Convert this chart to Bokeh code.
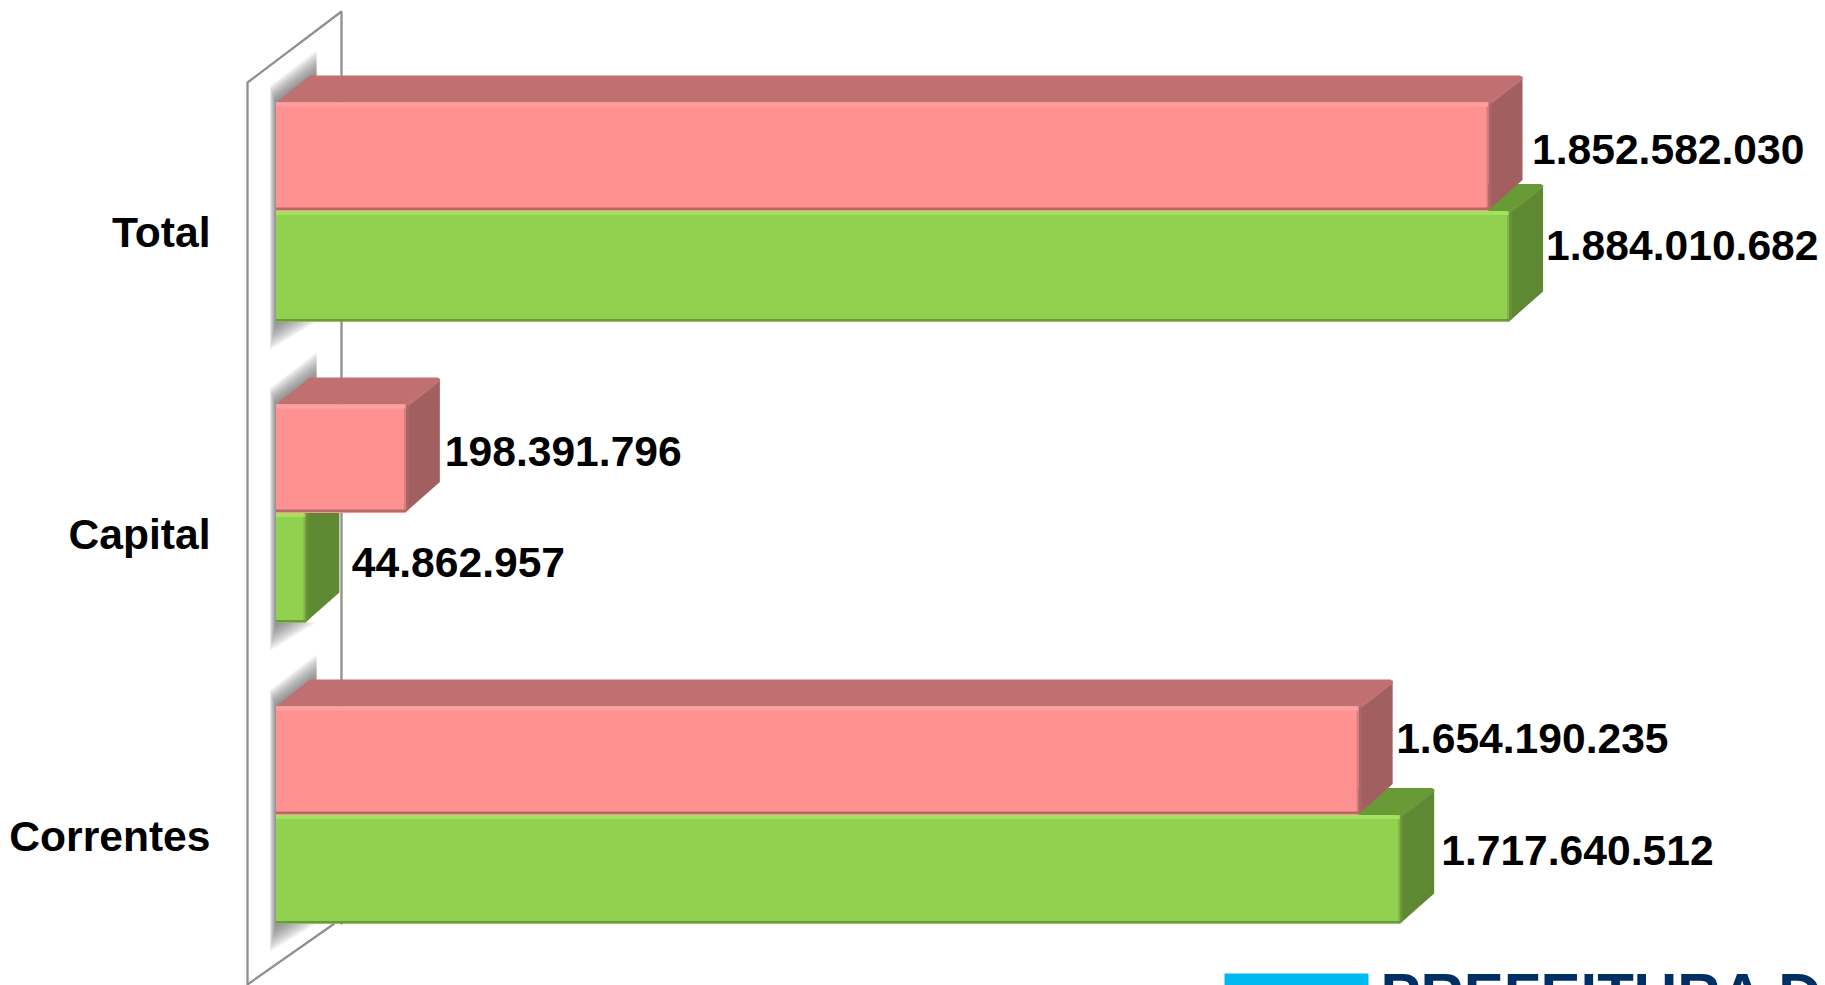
from bokeh.plotting import figure
from bokeh.models import Range1d
from bokeh.core.properties import value
from bokeh.embed import file_html
from bokeh.resources import INLINE

categories = ["Correntes", "Capital", "Total"]
pink_values = [1654190235, 198391796, 1852582030]
green_values = [1717640512, 44862957, 1884010682]
pink_labels = ["1.654.190.235", "198.391.796", "1.852.582.030"]
green_labels = ["1.717.640.512", "44.862.957", "1.884.010.682"]

# layout, in reference pixels
W, H = 1825, 985
ZERO = 275.5
PX_PER = 0.6545e-6
G0 = 814.5
STEP = 302.0
BAR = 108.5
DX, DY = 34, 27
green_extra = [0, 1, 2]
pink_dx = [37.5, 39, 43.5]
pink_dy = [-22, -7, -7]
green_dx = [41, 46.5, 37]
green_dy = [-19, -5, -19.5]
FONT = value("Liberation Sans")
FS = "42.6px"

def vx(px):
    return (px - ZERO) / PX_PER

def gy(py):
    return (G0 - py) / STEP

p = figure(width=W, height=H, output_backend="svg", toolbar_location=None,
           x_range=Range1d(vx(0), vx(W)), y_range=Range1d(gy(H), gy(0)),
           min_border=0, min_border_left=0, min_border_right=0,
           min_border_top=0, min_border_bottom=0)
p.xaxis.visible = False
p.yaxis.visible = False
p.grid.visible = False
p.outline_line_color = None
p.background_fill_color = "white"

def poly(points, color, alpha=1.0):
    p.patch([vx(a) for a, b in points], [gy(b) for a, b in points],
            fill_color=color, fill_alpha=alpha, line_color=None)

def seg(points, color="#8F8F8F", width=2.3):
    p.line([vx(a) for a, b in points], [gy(b) for a, b in points],
           line_color=color, line_width=width)

# wall
seg([(334, 923), (247, 984)])
seg([(247, 985), (247, 82), (341, 11), (341, 924)])

# soft shadows on the wall
for g in range(3):
    c = G0 - STEP * g
    top, bot = c - BAR, c + BAR + green_extra[g]
    for i in range(10):
        t = 1 - i / 10
        poly([(ZERO, top), (316, top - DY), (316, top - DY - 25 * t),
              (ZERO - 6 * t, top - 16 * t), (ZERO - 6 * t, bot + 28 * t),
              (ZERO + 40 * t, bot), (ZERO, bot)], "#606060", 0.1)

def solid(val, c0, c1, top, side, hi, lo, edge):
    x = ZERO + val * PX_PER
    poly([(ZERO, c0), (ZERO + DX, c0 - DY), (x + DX - 2, c0 - DY), (x + DX, c0 - DY + 2), (x, c0)], top)
    poly([(x, c0), (x + DX, c0 - DY + 1), (x + DX, c1 - DY - 3), (x, c1)], side)
    poly([(x, c0), (x + DX, c0 - DY + 1), (x + DX, c0 - DY + 4), (x + 2, c0 + 2)], edge)
    poly([(x, c0), (x + 3, c0 - 2), (x + 3, c1 - 2), (x, c1)], lo, 0.55)
    poly([(ZERO, c1), (x, c1), (x, c1 - 2.5), (ZERO, c1 - 2.5)], lo)
    poly([(ZERO, c0), (x - 2, c0), (x, c0 + 4), (ZERO, c0 + 4)], hi)
    poly([(x - 2, c0 + 4), (x, c0 + 4), (x, c1), (x - 2, c1)], lo, 0.5)

ys = list(range(3))
w = BAR / STEP
# green bars
for g in ys:
    c = G0 - STEP * g
    h = (BAR + green_extra[g]) / STEP
    p.hbar(y=[g - h / 2], left=[0], right=[green_values[g]], height=h,
           fill_color="#92D14F", line_color=None)
    solid(green_values[g], c, c + BAR + green_extra[g], "#689A36", "#5F8832",
          "#A3E25C", "#6B9A3A", "#6C9A3A")
# pink bars
for g in ys:
    c = G0 - STEP * g
    p.hbar(y=[g + w / 2], left=[0], right=[pink_values[g]], height=w,
           fill_color="#FF9191", line_color=None)
    solid(pink_values[g], c - BAR, c - 1, "#C07070", "#A25F5F",
          "#FFA0A0", "#B56A6A", "#C47272")

# value labels
for g in ys:
    c = G0 - STEP * g
    p.text([vx(ZERO + pink_values[g] * PX_PER + pink_dx[g])], [gy(c - BAR / 2 + pink_dy[g])],
           text=[pink_labels[g]], text_font=FONT, text_font_style="bold",
           text_font_size=FS, text_color="black",
           text_align="left", text_baseline="middle")
    p.text([vx(ZERO + green_values[g] * PX_PER + green_dx[g])], [gy(c + BAR / 2 + green_dy[g])],
           text=[green_labels[g]], text_font=FONT, text_font_style="bold",
           text_font_size=FS, text_color="black",
           text_align="left", text_baseline="middle")
    p.text([vx(210)], [gy(c + 21)], text=[categories[g]], text_font=FONT,
           text_font_style="bold", text_font_size=FS, text_color="black",
           text_align="right", text_baseline="middle")

# logo fragment at the bottom edge
poly([(1224, 973), (1368, 973), (1368, 987), (1224, 987)], "#00B8F0")
p.text([vx(1380)], [gy(960)], text=["PREFEITURA D"], text_font=FONT,
       text_font_style="bold", text_font_size="60px", text_color="#002F66",
       text_align="left", text_baseline="top")

open("out.html", "w").write(file_html(p, INLINE))
